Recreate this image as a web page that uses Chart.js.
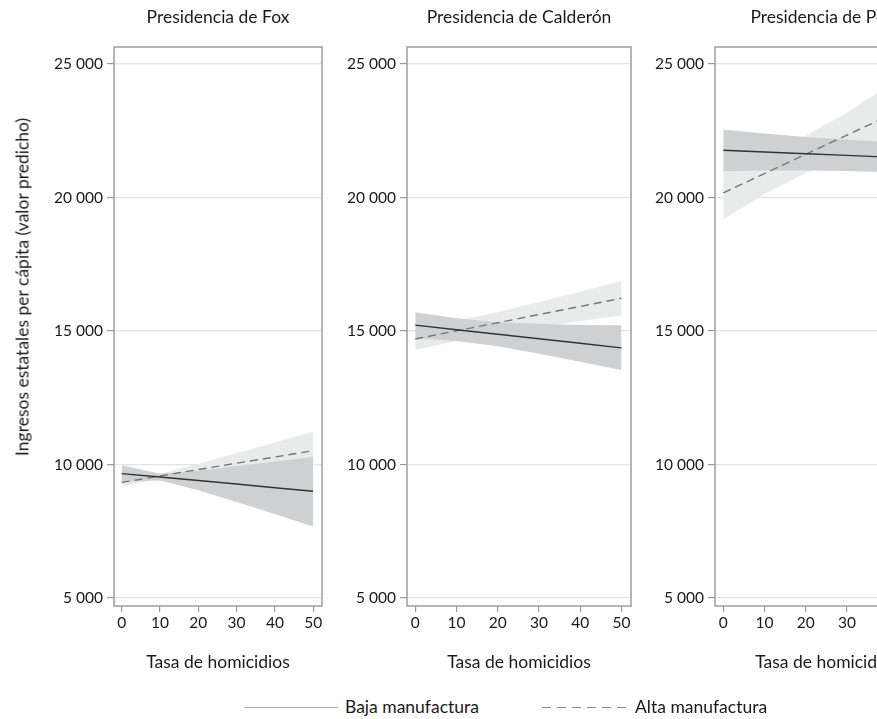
<!DOCTYPE html>
<html>
<head>
<meta charset="utf-8">
<script src="https://cdn.jsdelivr.net/npm/chart.js@4.4.0/dist/chart.umd.min.js"></script>
<style>
  html, body { margin: 0; padding: 0; background: #fff; overflow: hidden; }
  #wrap { position: relative; width: 877px; height: 719px; overflow: hidden; background: #fff; }
  canvas { position: absolute; top: 0; }
  #ytitle { position: absolute; left: 22px; top: 287px; transform: translate(-50%, -50%) rotate(-90deg);
            white-space: nowrap; font: 17.5px Lato, sans-serif; color: #1a1a1a; }
  .leg { position: absolute; top: 697px; font: 17.5px Lato, sans-serif; color: #1a1a1a; white-space: nowrap; line-height: 20px; }
  .legsvg { position: absolute; top: 697px; }
</style>
</head>
<body>
<div id="wrap">
  <canvas id="c1" width="330" height="690" style="left:0px"></canvas>
  <canvas id="c2" width="310" height="690" style="left:330px"></canvas>
  <canvas id="c3" width="310" height="690" style="left:638px"></canvas>
  <div id="ytitle">Ingresos estatales per cápita (valor predicho)</div>
  <svg class="legsvg" style="left:244px" width="96" height="20"><line x1="0" y1="10.5" x2="94" y2="10.5" stroke="#b3b3b3" stroke-width="1.2"/></svg>
  <div class="leg" id="legBaja" style="left:345px"></div>
  <svg class="legsvg" style="left:542px" width="90" height="20"><line x1="0" y1="10.5" x2="88" y2="10.5" stroke="#8a8a8a" stroke-width="1.2" stroke-dasharray="9 6"/></svg>
  <div class="leg" id="legAlta" style="left:635px"></div>
</div>
<script>
// ---------- data ----------
const homicideRate = [0, 10, 20, 30, 40, 50];
const panelTitles = ['Presidencia de Fox', 'Presidencia de Calderón', 'Presidencia de Peña'];
const seriesNames = ['Baja manufactura', 'Alta manufactura'];
const xTicks = [0, 10, 20, 30, 40, 50];
const yTicks = [5000, 10000, 15000, 20000, 25000];
const yTickLabels = ['5 000', '10 000', '15 000', '20 000', '25 000'];
const xTitle = 'Tasa de homicidios';

// Fox
const foxBaja     = [9660, 9530, 9400, 9270, 9130, 9000];
const foxBajaLow  = [9350, 9405, 9035, 8595, 8145, 7680];
const foxBajaHigh = [9970, 9655, 9765, 9945, 10115, 10280];
const foxAlta     = [9330, 9570, 9810, 10050, 10280, 10520];
const foxAltaLow  = [9175, 9485, 9600, 9670, 9735, 9810];
const foxAltaHigh = [9485, 9655, 10020, 10430, 10825, 11230];
// Calderón
const calBaja     = [15220, 15050, 14880, 14710, 14540, 14370];
const calBajaLow  = [14740, 14625, 14430, 14150, 13850, 13540];
const calBajaHigh = [15700, 15475, 15330, 15270, 15230, 15220];
const calAlta     = [14700, 15010, 15310, 15620, 15920, 16230];
const calAltaLow  = [14290, 14630, 14915, 15155, 15370, 15590];
const calAltaHigh = [15110, 15390, 15705, 16085, 16470, 16870];
// Peña Nieto
const penBaja     = [21770, 21705, 21640, 21580, 21515, 21450];
const penBajaLow  = [20990, 21010, 21010, 20995, 20945, 20865];
const penBajaHigh = [22550, 22400, 22270, 22165, 22085, 22035];
const penAlta     = [20175, 20900, 21620, 22340, 23060, 23780];
const penAltaLow  = [19175, 20135, 20920, 21495, 21940, 22325];
const penAltaHigh = [21175, 21665, 22320, 23185, 24180, 25235];

// ---------- style ----------
const FONT = 'Lato';
const TEXT = '#1a1a1a';
const LIGHT_BAND = '#e9eaea';
const DARK_BAND = '#cfd0d2';
const SOLID = '#333333';
const DASHED = '#777777';
const TITLE_SIZE = 17.5;
const TICK_SIZE = 15.5;

document.getElementById('legBaja').textContent = seriesNames[0];
document.getElementById('legAlta').textContent = seriesNames[1];

Chart.defaults.font.family = FONT;
Chart.defaults.font.size = TICK_SIZE;
Chart.defaults.color = TEXT;

const framePlugin = {
  id: 'frame',
  afterDraw(chart, args, opts) {
    const { ctx, chartArea: a } = chart;
    ctx.save();
    ctx.strokeStyle = '#9d9d9d';
    ctx.lineWidth = 1.5;
    ctx.strokeRect(a.left, a.top, a.right - a.left, a.bottom - a.top);
    ctx.fillStyle = TEXT;
    ctx.font = TITLE_SIZE + 'px ' + FONT;
    ctx.textAlign = 'center';
    ctx.textBaseline = 'middle';
    ctx.fillText(opts.title, (a.left + a.right) / 2, 17);
    ctx.restore();
  }
};

function pts(ys) { return homicideRate.map((x, i) => ({ x: x, y: ys[i] })); }

function makePanel(id, title, d, geom) {
  const band = (data, color, fill, order) => ({
    data: pts(data), borderWidth: 0, pointRadius: 0, backgroundColor: color,
    fill: fill, order: order, tension: 0
  });
  new Chart(document.getElementById(id), {
    type: 'line',
    data: {
      datasets: [
        band(d.altaHigh, LIGHT_BAND, '+1', 6),
        band(d.altaLow, LIGHT_BAND, false, 5),
        band(d.bajaHigh, DARK_BAND, '+1', 4),
        band(d.bajaLow, DARK_BAND, false, 3),
        { label: seriesNames[1], data: pts(d.alta), borderColor: DASHED, borderWidth: 1.4,
          borderDash: [8, 5], pointRadius: 0, fill: false, order: 2 },
        { label: seriesNames[0], data: pts(d.baja), borderColor: SOLID, borderWidth: 1.4,
          pointRadius: 0, fill: false, order: 1 }
      ]
    },
    options: {
      responsive: false,
      animation: false,
      events: [],
      layout: { padding: { top: 47, left: 0, right: geom.padRight, bottom: 0 } },
      plugins: { legend: { display: false }, tooltip: { enabled: false }, frame: { title: title } },
      scales: {
        x: {
          type: 'linear', min: -2, max: 52.3,
          afterBuildTicks: s => { s.ticks = xTicks.map(v => ({ value: v })); },
          afterFit: s => { s.height = 84; },
          border: { display: false },
          grid: { drawOnChartArea: false, drawTicks: true, tickLength: 6, tickColor: '#9a9a9a', lineWidth: 1.2 },
          ticks: { padding: 2, maxRotation: 0, color: TEXT, font: { size: TICK_SIZE } },
          title: { display: true, text: xTitle, color: TEXT, font: { size: TITLE_SIZE }, padding: { top: 0, bottom: 17.5 } }
        },
        y: {
          type: 'linear', min: 4700, max: 25640,
          afterBuildTicks: s => { s.ticks = yTicks.map(v => ({ value: v })); },
          afterFit: s => { s.width = geom.yWidth; },
          border: { display: false },
          grid: { color: '#e3e3e3', lineWidth: 1.2, drawTicks: true, tickLength: 7, tickColor: '#9a9a9a' },
          ticks: { padding: 4, color: TEXT, font: { size: TICK_SIZE },
                   callback: v => yTickLabels[yTicks.indexOf(v)] }
        }
      }
    },
    plugins: [framePlugin]
  });
}

makePanel('c1', panelTitles[0], {
  baja: foxBaja, bajaLow: foxBajaLow, bajaHigh: foxBajaHigh,
  alta: foxAlta, altaLow: foxAltaLow, altaHigh: foxAltaHigh
}, { yWidth: 114, padRight: 8 });
makePanel('c2', panelTitles[1], {
  baja: calBaja, bajaLow: calBajaLow, bajaHigh: calBajaHigh,
  alta: calAlta, altaLow: calAltaLow, altaHigh: calAltaHigh
}, { yWidth: 77, padRight: 9 });
makePanel('c3', panelTitles[2], {
  baja: penBaja, bajaLow: penBajaLow, bajaHigh: penBajaHigh,
  alta: penAlta, altaLow: penAltaLow, altaHigh: penAltaHigh
}, { yWidth: 77, padRight: 9 });
</script>
</body>
</html>
